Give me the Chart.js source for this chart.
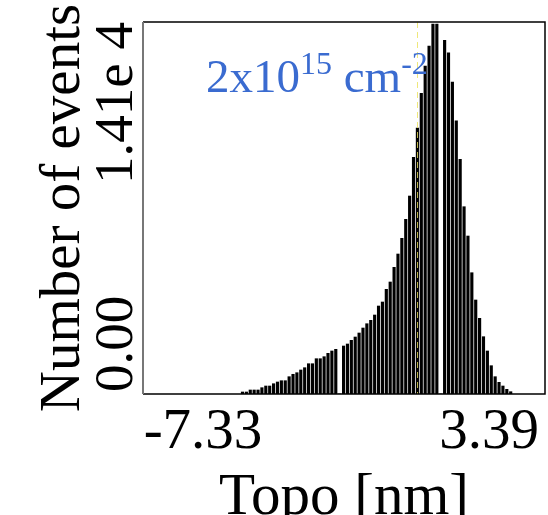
<!DOCTYPE html>
<html>
<head>
<meta charset="utf-8">
<script src="https://cdn.jsdelivr.net/npm/chart.js@4.4.1/dist/chart.umd.min.js"></script>
<style>
  html, body { margin: 0; padding: 0; background: #fff; }
  #wrap { width: 548px; height: 515px; position: relative; }
</style>
</head>
<body>
<div id="wrap"><canvas id="chart"></canvas></div>
<script>
// histogram counts, one per bin, left to right
const counts = [
  76, 76, 152, 152, 152, 239, 303, 303, 390, 455,
  504, 504, 656, 747, 807, 910, 997, 1148, 1148, 1338,
  1338, 1414, 1542, 1630, 1694, 0, 1819, 1895, 2035, 2160,
  2312, 2501, 2664, 2793, 2994, 3335, 3487, 3968, 4245, 4802,
  5306, 5901, 6621, 7504, 8971, 10081, 11397, 12431, 13189, 14023,
  14023, 0, 13405, 12935, 11825, 10358, 8895, 7099, 5988, 4597,
  3563, 2869, 2172, 1630, 1073, 656, 443, 303, 178, 87
];

// bin layout along Topo [nm]
const firstBin = -5.85;
const binWidth = 0.1457;
const binCenters = counts.map((c, i) => firstBin + i * binWidth);

// axis ranges and tick labels
const xRange = [-9.579, 5.489];
const xTicks = [-7.33, 3.39];
const yRange = [0, 14100];
const yTickLabels = ['0.00', '1.41e 4'];
const meanTopo = 0.70;

const serif = "'Liberation Serif', 'Times New Roman', serif";

// frame, marker line and all the text
const decor = {
  id: 'decor',
  afterDatasetsDraw(chart) {
    const { ctx, chartArea: a, scales } = chart;
    const xs = scales.x, ys = scales.y;

    // dashed yellow marker
    ctx.save();
    ctx.strokeStyle = 'rgba(235, 225, 90, 0.8)';
    ctx.lineWidth = 1;
    ctx.setLineDash([6, 4]);
    const mx = Math.round(xs.getPixelForValue(meanTopo)) + 0.5;
    ctx.beginPath();
    ctx.moveTo(mx, a.top);
    ctx.lineTo(mx, a.bottom);
    ctx.stroke();
    ctx.restore();

    // frame
    ctx.save();
    ctx.strokeStyle = '#000';
    ctx.lineWidth = 1.5;
    ctx.beginPath();
    ctx.moveTo(a.left, a.top);
    ctx.lineTo(a.right, a.top);
    ctx.lineTo(a.right, a.bottom);
    ctx.lineTo(a.left, a.bottom);
    ctx.stroke();
    ctx.strokeStyle = '#777';
    ctx.lineWidth = 2;
    ctx.beginPath();
    ctx.moveTo(a.left, a.top);
    ctx.lineTo(a.left, a.bottom);
    ctx.stroke();
    ctx.restore();

    ctx.save();
    ctx.fillStyle = '#000';
    ctx.textBaseline = 'alphabetic';

    // x tick labels and title
    ctx.font = '57px ' + serif;
    ctx.textAlign = 'center';
    xTicks.forEach(v => {
      ctx.fillText(v.toFixed(2), xs.getPixelForValue(v), 448);
    });
    ctx.font = '59px ' + serif;
    ctx.fillText('Topo [nm]', (a.left + a.right) / 2, 514);

    // y tick labels, rotated
    ctx.font = '55px ' + serif;
    ctx.save();
    ctx.translate(132, ys.getPixelForValue(yRange[0]) - 2);
    ctx.rotate(-Math.PI / 2);
    ctx.textAlign = 'left';
    ctx.fillText(yTickLabels[0], 0, 0);
    ctx.restore();
    ctx.save();
    ctx.translate(132, ys.getPixelForValue(yRange[1]));
    ctx.rotate(-Math.PI / 2);
    ctx.textAlign = 'right';
    ctx.fillText(yTickLabels[1], 0, 0);
    ctx.restore();

    // y title, rotated
    ctx.save();
    ctx.translate(79, 208);
    ctx.rotate(-Math.PI / 2);
    ctx.font = '57px ' + serif;
    ctx.textAlign = 'center';
    ctx.fillText('Number of events', 0, 0);
    ctx.restore();

    // fluence note
    ctx.fillStyle = '#3a6bd0';
    ctx.textAlign = 'left';
    let x = 206;
    ctx.font = '47px ' + serif;
    ctx.fillText('2x10', x, 92);
    x += ctx.measureText('2x10').width;
    ctx.font = '32px ' + serif;
    ctx.fillText('15', x, 74);
    x += ctx.measureText('15').width;
    ctx.font = '47px ' + serif;
    x += ctx.measureText(' ').width;
    ctx.fillText('cm', x, 92);
    x += ctx.measureText('cm').width;
    ctx.font = '32px ' + serif;
    ctx.fillText('-2', x, 74);
    ctx.restore();
  }
};

new Chart(document.getElementById('chart'), {
  type: 'bar',
  data: {
    datasets: [{
      data: counts.map((c, i) => ({ x: binCenters[i], y: c })),
      backgroundColor: '#000',
      borderWidth: 0,
      barThickness: 2.5
    }]
  },
  options: {
    responsive: true,
    maintainAspectRatio: false,
    animation: false,
    layout: { padding: { left: 143, right: 3, top: 22, bottom: 121 } },
    plugins: { legend: { display: false }, tooltip: { enabled: false } },
    scales: {
      x: { type: 'linear', min: xRange[0], max: xRange[1], display: false, offset: false },
      y: { min: yRange[0], max: yRange[1], display: false }
    }
  },
  plugins: [decor]
});
</script>
</body>
</html>
